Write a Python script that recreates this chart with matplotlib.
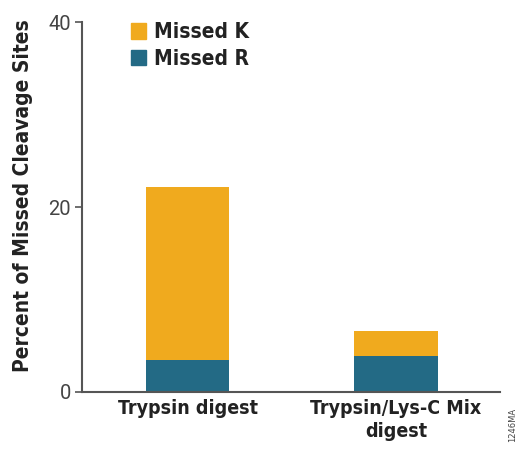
import matplotlib
matplotlib.use("Agg")
import matplotlib.pyplot as plt
from matplotlib.patches import Patch
from matplotlib import font_manager

# data
categories = ["Trypsin digest", "Trypsin/Lys-C Mix\ndigest"]
missed_r = [3.5, 3.9]
missed_k = [18.7, 2.7]
yticks = [0, 20, 40]

ORANGE = "#F0AA1E"
TEAL = "#236A85"

BOLD = dict(family=["DejaVu Sans"], fontweight="bold", fontstretch="condensed", color="#222222")

fig = plt.figure(figsize=(5.2, 4.51), dpi=100)
ax = fig.add_axes([0.158, 0.131, 0.804, 0.82])

x = list(range(len(categories)))
ax.bar(x, missed_r, width=0.4, color=TEAL, label="Missed R")
ax.bar(x, missed_k, width=0.4, bottom=missed_r, color=ORANGE, label="Missed K")

ax.set_xlim(-0.506, 1.5)
ax.set_ylim(0, 40)
ax.set_yticks(yticks)
ax.set_xticks(x)
ax.set_xticklabels(categories, fontsize=14, linespacing=1.25, **BOLD)
ax.tick_params(axis="x", length=0, pad=5)
ax.tick_params(axis="y", length=5, width=1.2, color="#555555", labelsize=14.5,
               labelcolor="#444444", pad=3)
for t in ax.get_yticklabels():
    t.set_family(["Roboto", "DejaVu Sans"])
    t.set_fontweight("normal")

for s in ["top", "right"]:
    ax.spines[s].set_visible(False)
for s in ["left", "bottom"]:
    ax.spines[s].set_color("#555555")
    ax.spines[s].set_linewidth(1.5)

ax.set_ylabel("Percent of Missed Cleavage Sites", fontsize=15, **BOLD)
ax.yaxis.set_label_coords(-0.117, 0.53)

handles = [Patch(color=ORANGE, label="Missed K"), Patch(color=TEAL, label="Missed R")]
leg = ax.legend(handles=handles, loc="upper left", bbox_to_anchor=(0.071, 1.05),
                frameon=False, handlelength=0.75, handleheight=0.75, handletextpad=0.35,
                labelspacing=0.3,
                prop=font_manager.FontProperties(family="DejaVu Sans", weight="bold",
                                                 stretch="condensed", size=15))
for t in leg.get_texts():
    t.set_color("#222222")

fig.text(0.985, 0.02, "1246MA", rotation=90, fontsize=6, color="#444444",
         ha="center", va="bottom")

fig.savefig("out.png", dpi=100)
